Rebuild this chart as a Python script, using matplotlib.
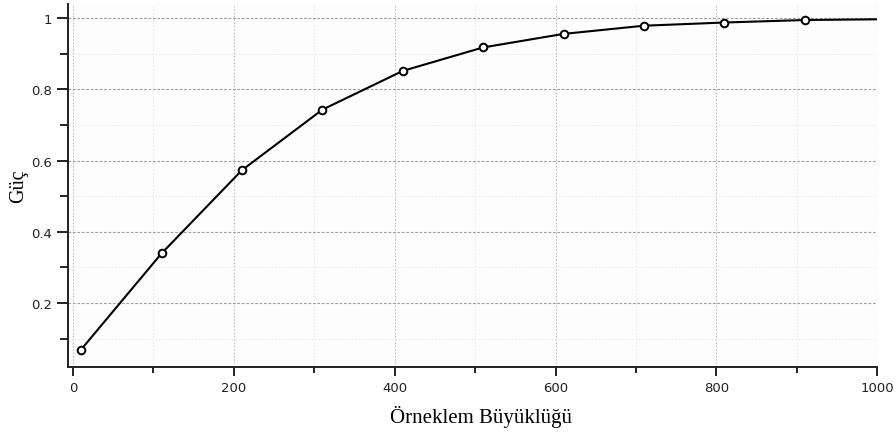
import matplotlib
matplotlib.use("Agg")
import matplotlib.pyplot as plt
from matplotlib.ticker import MultipleLocator

# values
sample_size = [10, 110, 210, 310, 410, 510, 610, 710, 810, 910]
power = [0.069, 0.339, 0.573, 0.743, 0.852, 0.918, 0.956, 0.979, 0.988, 0.995]
# curve keeps going past the last marker
line_x = sample_size + [1000]
line_y = power + [0.997]

x_ticks = [0, 200, 400, 600, 800, 1000]
y_ticks = [0.2, 0.4, 0.6, 0.8, 1.0]
y_tick_labels = ["0.2", "0.4", "0.6", "0.8", "1"]

fig = plt.figure(figsize=(8.96, 4.35), dpi=100)
ax = fig.add_axes([0.0756, 0.154, 0.9034, 0.8345])
ax.set_facecolor("#fdfdfd")

ax.plot(line_x, line_y, color="black", lw=1.5, zorder=3)
ax.plot(sample_size, power, ls="none", marker="o", ms=5.5, mfc="white",
        mec="black", mew=1.4, zorder=4)

ax.set_xlim(-6.6, 1000)
ax.set_ylim(0.02, 1.04)
ax.set_xticks(x_ticks)
ax.set_yticks(y_ticks)
ax.set_yticklabels(y_tick_labels)
ax.xaxis.set_minor_locator(MultipleLocator(100))
ax.yaxis.set_minor_locator(MultipleLocator(0.1))

for s in ["top", "right"]:
    ax.spines[s].set_visible(False)
for s in ["left", "bottom"]:
    ax.spines[s].set_linewidth(1.4)
    ax.spines[s].set_color("#222222")

ax.tick_params(which="major", direction="out", length=8, width=1.4,
               labelsize=9.5, pad=3.5, colors="#222222")
ax.tick_params(which="minor", direction="out", length=5.5, width=1.4,
               colors="#222222")
ax.tick_params(axis="x", which="major", length=6.5)
ax.tick_params(axis="x", which="minor", length=4.5)

ax.grid(True, axis="y", which="major", color="#a0a0a0", ls=(0, (2.5, 1.5)), lw=0.8)
ax.grid(True, axis="x", which="major", color="#c0c0c0", ls=(0, (1.5, 1.5)), lw=0.8)
ax.grid(True, which="minor", color="#ececec", ls=(0, (1.5, 1.5)), lw=0.8)
ax.set_axisbelow(True)

serif = "Liberation Serif"
ax.set_xlabel("Örneklem Büyüklüğü", fontsize=15, family=serif, labelpad=8)
ax.xaxis.label.set_x(0.511)
ax.set_ylabel("Güç", fontsize=14.5, family=serif, labelpad=2)

fig.savefig("out.png", dpi=100)
